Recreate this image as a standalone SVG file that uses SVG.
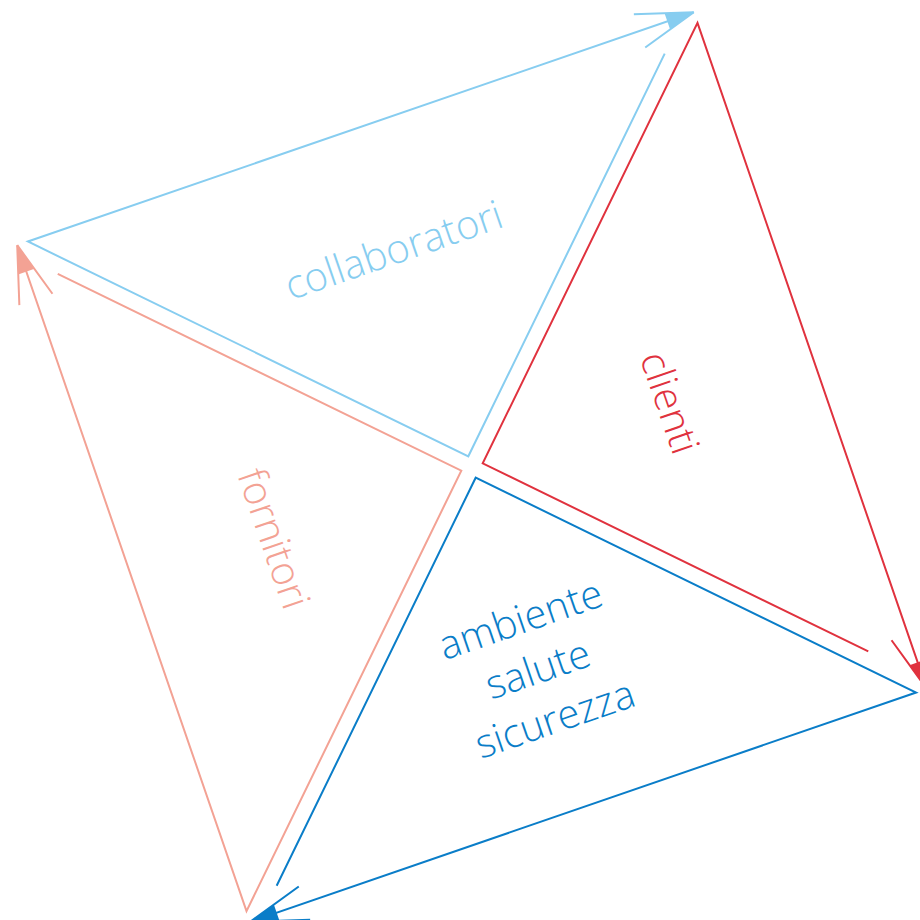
<svg xmlns="http://www.w3.org/2000/svg" width="920" height="920" viewBox="0 0 920 920">
<style>
.edge{fill:none;stroke-width:2;stroke-linejoin:miter}
.lb{stroke:#87cdf0}.rd{stroke:#e0323e}.bl{stroke:#0a7dc8}.sa{stroke:#f3a294}
.lbl{font-family:"Open Sans","Liberation Sans",sans-serif;font-weight:300;font-size:40px;text-anchor:middle}
</style>
<defs>
<marker id="mLB" markerUnits="userSpaceOnUse" orient="auto" refX="0" refY="0" markerWidth="80" markerHeight="60" viewBox="-70 -30 80 60" overflow="visible">
<path d="M0,0 L-28,-8.6 L-28,8.6 Z" fill="#87cdf0"/>
<path d="M0,0 L-57.4,-17.5 M0,0 L-57.4,17.5" stroke="#87cdf0" stroke-width="2" fill="none"/>
</marker>
<marker id="mRD" markerUnits="userSpaceOnUse" orient="auto" refX="0" refY="0" markerWidth="80" markerHeight="60" viewBox="-70 -30 80 60" overflow="visible">
<path d="M0,0 L-28,-8.6 L-28,8.6 Z" fill="#e0323e"/>
<path d="M0,0 L-57.4,-17.5 M0,0 L-57.4,17.5" stroke="#e0323e" stroke-width="2" fill="none"/>
</marker>
<marker id="mBL" markerUnits="userSpaceOnUse" orient="auto" refX="0" refY="0" markerWidth="80" markerHeight="60" viewBox="-70 -30 80 60" overflow="visible">
<path d="M0,0 L-28,-8.6 L-28,8.6 Z" fill="#0a7dc8"/>
<path d="M0,0 L-57.4,-17.5 M0,0 L-57.4,17.5" stroke="#0a7dc8" stroke-width="2" fill="none"/>
</marker>
<marker id="mSA" markerUnits="userSpaceOnUse" orient="auto" refX="0" refY="0" markerWidth="80" markerHeight="60" viewBox="-70 -30 80 60" overflow="visible">
<path d="M0,0 L-28,-8.6 L-28,8.6 Z" fill="#f3a294"/>
<path d="M0,0 L-57.4,-17.5 M0,0 L-57.4,17.5" stroke="#f3a294" stroke-width="2" fill="none"/>
</marker>
</defs>
<g id="connectors" transform="translate(472,467) rotate(26)">
<path id="tri-collaboratori" class="edge lb" d="M-8,-456 L-8,-8 L-498,-8 L0,-506" marker-end="url(#mLB)"/>
<path id="tri-clienti" class="edge rd" d="M437,-8 L8,-8 L8,-498 L506,0" marker-end="url(#mRD)"/>
<path id="tri-ambiente" class="edge bl" d="M8,462 L8,8 L498,8 L0,506" marker-end="url(#mBL)"/>
<path id="tri-fornitori" class="edge sa" d="M-457,8 L-8,8 L-8,498 L-506,0" marker-end="url(#mSA)"/>
</g>
<g id="collaboratori">
<text class="lbl" fill="#87cdf0" transform="translate(394,251) rotate(-19)" y="13">collaboratori</text>
</g>
<g id="clienti">
<text class="lbl" fill="#e0323e" transform="translate(669,403) rotate(71)" y="13">clienti</text>
</g>
<g id="fornitori">
<text class="lbl" fill="#f3a294" transform="translate(273,539) rotate(71)" y="13">fornitori</text>
</g>
<g id="ambiente">
<text class="lbl" fill="#0a7dc8" transform="translate(538,670) rotate(-19)"><tspan x="0" y="-39.6">ambiente</tspan><tspan x="0" y="13">salute</tspan><tspan x="0" y="65.6">sicurezza</tspan></text>
</g>
</svg>
